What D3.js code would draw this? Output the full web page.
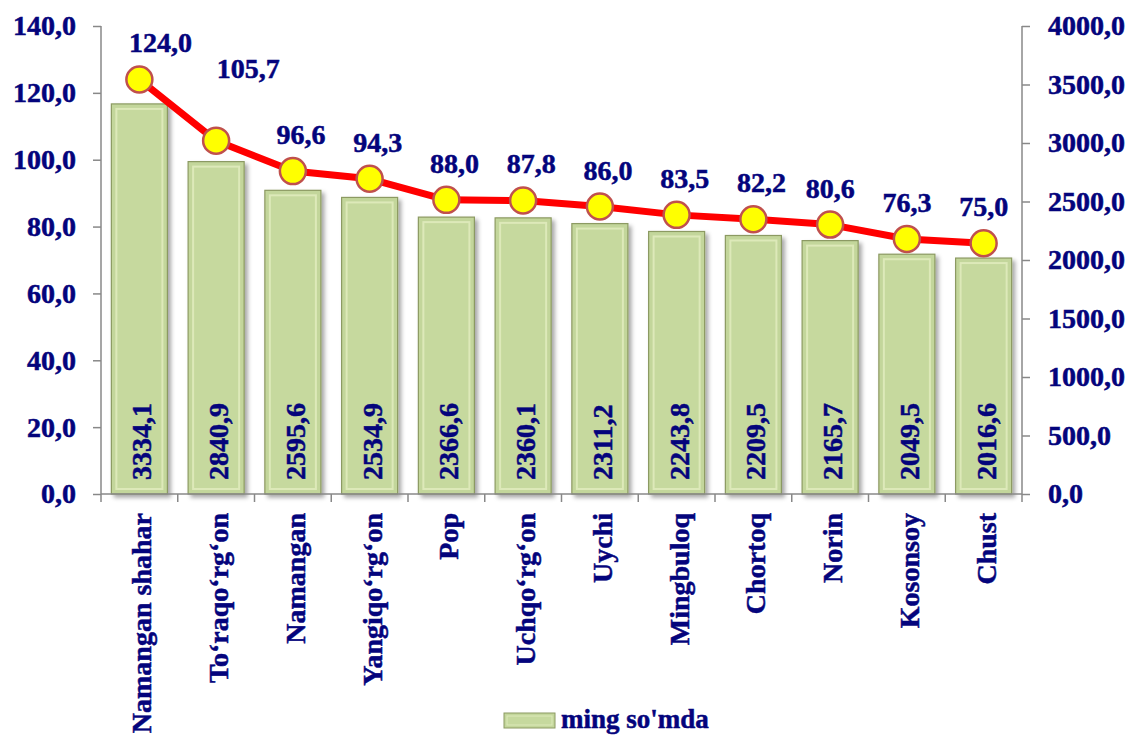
<!DOCTYPE html>
<html>
<head>
    <meta charset="utf-8">
    <title>Namangan</title>
    <style>
        body { margin: 0; background: #fff; }
        svg text { font-family: 'Liberation Serif', 'Times New Roman', serif; font-weight: bold;
            fill: #04047c; stroke: #04047c; stroke-width: 0.5px; }
    </style>
    <script src="https://d3js.org/d3.v7.min.js"></script>
</head>
<body>
<script type="text/javascript">

    // data
    var categories = ['Namangan shahar', 'To\u2018raqo\u2018rg\u2018on', 'Namangan', 'Yangiqo\u2018rg\u2018on', 'Pop',
        'Uchqo\u2018rg\u2018on', 'Uychi', 'Mingbuloq', 'Chortoq', 'Norin', 'Kosonsoy', 'Chust'];
    var barValues = [3334.1, 2840.9, 2595.6, 2534.9, 2366.6, 2360.1, 2311.2, 2243.8, 2209.5, 2165.7, 2049.5, 2016.6];
    var lineValues = [124.0, 105.7, 96.6, 94.3, 88.0, 87.8, 86.0, 83.5, 82.2, 80.6, 76.3, 75.0];
    var leftTicks = [0, 20, 40, 60, 80, 100, 120, 140];
    var rightTicks = [0, 500, 1000, 1500, 2000, 2500, 3000, 3500, 4000];
    var legendLabel = "ming so'mda";

    var W = 1130, H = 738;
    var m = {left: 101, right: 108, top: 26, bottom: 244};
    var fmt = function(v) { return v.toFixed(1).replace('.', ','); };

    var svg = d3.select('body').append('svg')
        .attr('width', W).attr('height', H);

    var defs = svg.append('defs');
    var sh = defs.append('filter').attr('id', 'shadow')
        .attr('x', '-20%').attr('y', '-20%').attr('width', '150%').attr('height', '150%');
    sh.append('feDropShadow').attr('dx', 3).attr('dy', 3).attr('stdDeviation', 2)
        .attr('flood-color', '#000').attr('flood-opacity', 0.35);

    var x = d3.scaleBand().domain(categories)
        .range([m.left, W - m.right]).paddingInner(0.27).paddingOuter(0.135);
    var yL = d3.scaleLinear().domain([0, 140]).range([H - m.bottom, m.top]);
    var yR = d3.scaleLinear().domain([0, 4000]).range([H - m.bottom, m.top]);

    // bars
    var bars = svg.append('g').selectAll('g')
        .data(barValues).enter().append('g');

    bars.append('rect')
        .attr('x', function(d, i) { return x(categories[i]); })
        .attr('y', function(d) { return yR(d); })
        .attr('width', x.bandwidth())
        .attr('height', function(d) { return yR(0) - yR(d); })
        .attr('fill', '#c3d69b')
        .attr('stroke', '#8c9a62')
        .attr('stroke-width', 1.2)
        .attr('filter', 'url(#shadow)');

    // bevel
    bars.append('rect')
        .attr('x', function(d, i) { return x(categories[i]) + 5; })
        .attr('y', function(d) { return yR(d) + 5; })
        .attr('width', x.bandwidth() - 10)
        .attr('height', function(d) { return yR(0) - yR(d) - 10; })
        .attr('fill', '#c6d99e')
        .attr('stroke', '#dde9b9')
        .attr('stroke-width', 2);

    bars.append('text')
        .attr('transform', function(d, i) {
            return 'translate(' + (x(categories[i]) + x.bandwidth() / 2 + 12) + ',' + (yR(0) - 14) + ') rotate(-90)';
        })
        .attr('font-size', 28)
        .text(function(d) { return fmt(d); });

    // axes
    var axL = svg.append('g').attr('transform', 'translate(' + m.left + ',0)')
        .call(d3.axisLeft(yL).tickValues(leftTicks).tickSize(8).tickPadding(17).tickFormat(fmt));
    var axR = svg.append('g').attr('transform', 'translate(' + (W - m.right) + ',0)')
        .call(d3.axisRight(yR).tickValues(rightTicks).tickSize(8).tickPadding(18).tickFormat(fmt));
    [axL, axR].forEach(function(a) {
        a.attr('font-family', null).attr('font-size', null);
        a.selectAll('path, line').attr('stroke', '#888').attr('stroke-width', 1.5);
        a.selectAll('text').attr('font-size', 28).attr('fill', null);
    });
    axL.select('.domain').attr('d', 'M0,' + (H - m.bottom) + 'V' + m.top);
    axR.select('.domain').attr('d', 'M0,' + (H - m.bottom) + 'V' + m.top);

    // category axis
    var bounds = categories.map(function(c) { return x(c) - x.step() * x.paddingInner() / 2; });
    bounds.push(W - m.right);
    var axB = svg.append('g');
    axB.append('line')
        .attr('x1', m.left).attr('x2', W - m.right)
        .attr('y1', yR(0)).attr('y2', yR(0))
        .attr('stroke', '#888').attr('stroke-width', 1.5);
    axB.selectAll('.tk').data(bounds).enter().append('line')
        .attr('x1', function(d) { return d; }).attr('x2', function(d) { return d; })
        .attr('y1', yR(0)).attr('y2', yR(0) + 8)
        .attr('stroke', '#888').attr('stroke-width', 1.5);
    axB.selectAll('text').data(categories).enter().append('text')
        .attr('transform', function(d) {
            return 'translate(' + (x(d) + x.bandwidth() / 2 + 12) + ',' + (yR(0) + 19) + ') rotate(-90)';
        })
        .attr('text-anchor', 'end')
        .attr('font-size', 28)
        .text(function(d) { return d; });

    // line
    var line = d3.line()
        .x(function(d, i) { return x(categories[i]) + x.bandwidth() / 2; })
        .y(function(d) { return yL(d); });
    svg.append('path').datum(lineValues)
        .attr('d', line)
        .attr('fill', 'none')
        .attr('stroke', '#ff0000')
        .attr('stroke-width', 7)
        .attr('stroke-linejoin', 'round');

    var pts = svg.append('g').selectAll('g').data(lineValues).enter().append('g');
    pts.append('circle')
        .attr('cx', function(d, i) { return x(categories[i]) + x.bandwidth() / 2; })
        .attr('cy', function(d) { return yL(d); })
        .attr('r', 13)
        .attr('fill', '#ffff00')
        .attr('stroke', '#c0504d')
        .attr('stroke-width', 2.5);
    // labels sit a bit right of the markers; the first two were moved clear of the line
    pts.append('text')
        .attr('x', function(d, i) {
            var dx = i === 0 ? 21 : i === 1 ? 32 : i > 8 ? 0 : 8;
            return x(categories[i]) + x.bandwidth() / 2 + dx;
        })
        .attr('y', function(d, i) { return yL(d) - (i === 1 ? 63 : 27); })
        .attr('text-anchor', 'middle')
        .attr('font-size', 28)
        .text(function(d) { return fmt(d); });

    // legend
    var lg = svg.append('g').attr('transform', 'translate(504,713)');
    lg.append('rect').attr('width', 51).attr('height', 15)
        .attr('fill', '#c3d69b').attr('stroke', '#8c9a62');
    lg.append('rect').attr('x', 3).attr('y', 3).attr('width', 45).attr('height', 9)
        .attr('fill', '#c6d99e').attr('stroke', '#dde9b9');
    lg.append('text').attr('x', 57).attr('y', 15)
        .attr('font-size', 27)
        .text(legendLabel);

</script>
</body>
</html>
